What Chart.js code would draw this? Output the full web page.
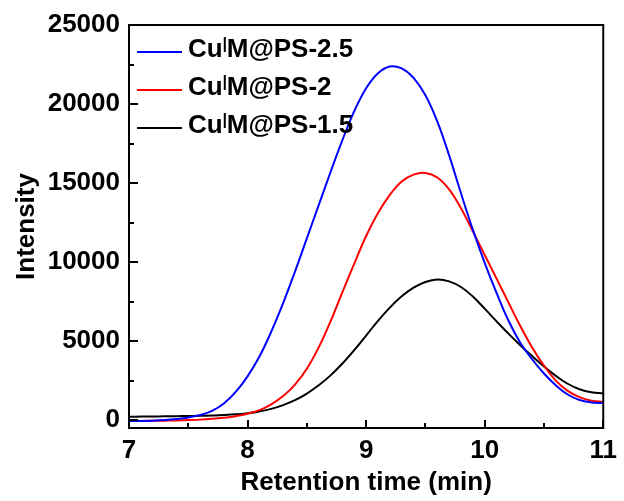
<!DOCTYPE html>
<html><head><meta charset="utf-8">
<script src="https://cdn.jsdelivr.net/npm/chart.js@4/dist/chart.umd.min.js"></script>
<style>html,body{margin:0;padding:0;background:#fff;}#wrap{width:624px;height:501px;}</style>
</head><body><div id="wrap"><canvas id="c" width="624" height="501"></canvas></div>
<script>
const retentionTime = [7.0,7.1,7.2,7.3,7.4,7.5,7.6,7.7,7.8,7.9,8.0,8.1,8.2,8.3,8.4,8.5,8.6,8.7,8.8,8.9,9.0,9.1,9.2,9.3,9.4,9.5,9.6,9.7,9.8,9.9,10.0,10.1,10.2,10.3,10.4,10.5,10.6,10.7,10.8,10.9,11.0];
const intensityPS25 = [-60,-55,-40,0,70,170,320,580,1050,1780,2770,4020,5600,7400,9400,11500,13600,15700,17720,19550,21000,21950,22380,22250,21650,20550,18900,16750,14350,12050,9950,8050,6300,4900,3850,2950,2200,1620,1270,1120,1080];
const intensityPS2 = [-50,-50,-45,-35,-20,0,30,80,150,250,400,630,1000,1520,2250,3250,4600,6250,8100,9900,11650,13100,14250,15100,15530,15640,15350,14600,13400,11950,10450,8950,7450,5950,4600,3450,2500,1850,1450,1230,1150];
const intensityPS15 = [215,222,230,238,247,258,272,292,320,365,440,550,710,950,1260,1680,2200,2830,3580,4430,5350,6280,7120,7830,8380,8740,8900,8780,8420,7820,7050,6250,5470,4740,4050,3390,2800,2300,1950,1760,1690];
const seriesNames = ['CuIM@PS-2.5','CuIM@PS-2','CuIM@PS-1.5'];
const legendPrefix = ['Cu','Cu','Cu'];
const legendSup = ['I','I','I'];
const legendSuffix = ['M@PS-2.5','M@PS-2','M@PS-1.5'];
const seriesColors = ['#0000ff','#ff0000','#000000'];
const xMajorTicks = [7,8,9,10,11];
const xMinorTicks = [7.5,8.5,9.5,10.5];
const yMajorTicks = [0,5000,10000,15000,20000,25000];
const yMinorTicks = [2500,7500,12500,17500,22500];

const FONT = "'Liberation Sans', Arial, sans-serif";
const allSeries = [intensityPS25, intensityPS2, intensityPS15];

const framePlugin = {
  id: 'frameTicks',
  afterDatasetsDraw(chart) {
    const {ctx, chartArea: a, scales: {x, y}} = chart;
    ctx.save();
    ctx.strokeStyle = '#000';
    ctx.lineWidth = 2;
    ctx.strokeRect(a.left, a.top, a.right - a.left, a.bottom - a.top);
    ctx.beginPath();
    xMajorTicks.forEach(v => { const p = Math.round(x.getPixelForValue(v)); ctx.moveTo(p, a.bottom); ctx.lineTo(p, a.bottom - 8); });
    xMinorTicks.forEach(v => { const p = Math.round(x.getPixelForValue(v)); ctx.moveTo(p, a.bottom); ctx.lineTo(p, a.bottom - 5); });
    yMajorTicks.forEach(v => { const p = Math.round(y.getPixelForValue(v)); ctx.moveTo(a.left, p); ctx.lineTo(a.left + 9, p); });
    yMinorTicks.forEach(v => { const p = Math.round(y.getPixelForValue(v)); ctx.moveTo(a.left, p); ctx.lineTo(a.left + 5, p); });
    ctx.stroke();
    ctx.restore();
  },
  afterDraw(chart) {
    const ctx = chart.ctx;
    const a = chart.chartArea;
    ctx.save();
    for (let i = 0; i < seriesNames.length; i++) {
      const ly = a.top + 27 + i * 38;
      ctx.strokeStyle = seriesColors[i];
      ctx.lineWidth = 2;
      ctx.beginPath();
      ctx.moveTo(a.left + 8, ly);
      ctx.lineTo(a.left + 53, ly);
      ctx.stroke();
      let tx = a.left + 59;
      const base = ly + 5;
      ctx.fillStyle = '#000';
      ctx.textBaseline = 'alphabetic';
      ctx.textAlign = 'left';
      ctx.font = 'bold 26px ' + FONT;
      ctx.fillText(legendPrefix[i], tx, base);
      tx += ctx.measureText(legendPrefix[i]).width - 1;
      ctx.font = 'normal 22px ' + FONT;
      ctx.fillText(legendSup[i], tx, base - 5);
      tx += ctx.measureText(legendSup[i]).width - 1;
      ctx.font = 'bold 26px ' + FONT;
      ctx.fillText(legendSuffix[i], tx, base);
    }
    ctx.restore();
  }
};

new Chart(document.getElementById('c'), {
  type: 'line',
  data: {
    datasets: allSeries.map((s, i) => ({
      label: seriesNames[i],
      data: retentionTime.map((t, k) => ({x: t, y: s[k]})),
      borderColor: seriesColors[i],
      borderWidth: 2,
      pointRadius: 0,
      fill: false,
      tension: 0.4
    }))
  },
  options: {
    responsive: false,
    animation: false,
    devicePixelRatio: 1,
    layout: {padding: {top: 25, right: 17, left: 0, bottom: 0}},
    plugins: {legend: {display: false}, tooltip: {enabled: false}},
    scales: {
      x: {
        type: 'linear', min: 7, max: 11,
        afterBuildTicks: s => { s.ticks = xMajorTicks.map(v => ({value: v})); },
        afterFit: s => { s.height = 73; },
        grid: {display: false, drawTicks: false},
        border: {display: false},
        ticks: {color: '#000', padding: 7, font: {family: FONT, size: 26, weight: 'bold'}, maxRotation: 0, callback: v => String(v)},
        title: {display: true, text: 'Retention time (min)', color: '#000', font: {family: FONT, size: 26, weight: 'bold'}, padding: {top: 0, bottom: 3}}
      },
      y: {
        type: 'linear', min: -500, max: 25000,
        afterBuildTicks: s => { s.ticks = yMajorTicks.map(v => ({value: v})); },
        afterFit: s => { s.width = 129; },
        grid: {display: false, drawTicks: false},
        border: {display: false},
        ticks: {color: '#000', padding: 9, font: {family: FONT, size: 26, weight: 'bold'}, callback: v => String(v)},
        title: {display: true, text: 'Intensity', color: '#000', font: {family: FONT, size: 26, weight: 'bold'}, padding: {top: 11, bottom: 0}}
      }
    }
  },
  plugins: [framePlugin]
});
</script></body></html>
